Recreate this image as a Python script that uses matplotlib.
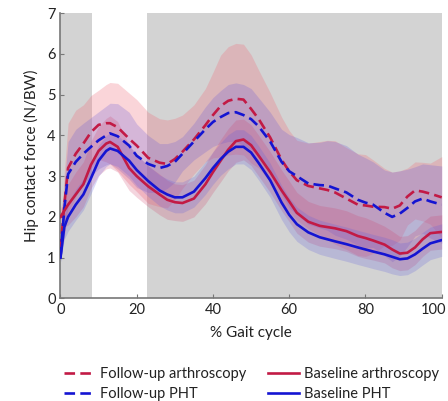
import matplotlib
matplotlib.use('Agg')
import matplotlib.pyplot as plt
import matplotlib.transforms as mtransforms
import numpy as np

plt.rcParams['font.family'] = ['Lato', 'DejaVu Sans']

# % gait cycle sample points
gait = [0, 1, 2, 4, 6, 8, 10, 12, 13, 15, 18, 20, 23, 26, 28, 30, 32, 35, 38, 40,
        42, 44, 46, 48, 50, 52, 55, 58, 60, 62, 65, 68, 70, 72, 75, 78, 80, 82, 85,
        87, 89, 91, 93, 95, 97, 100]

# follow-up arthroscopy (mean, sd)
fu_arth = [1.2, 2.3, 3.2, 3.55, 3.8, 4.08, 4.26, 4.3, 4.3, 4.2, 3.92, 3.75, 3.45, 3.33,
           3.3, 3.42, 3.6, 3.9, 4.25, 4.5, 4.72, 4.85, 4.9, 4.88, 4.65, 4.4, 3.95, 3.4,
           3.12, 2.9, 2.76, 2.7, 2.66, 2.6, 2.45, 2.3, 2.28, 2.25, 2.24, 2.2, 2.28, 2.5,
           2.65, 2.62, 2.57, 2.48]
fu_arth_sd = [0.1, 0.8, 1.1, 1.07, 0.95, 0.9, 0.85, 0.95, 1.0, 1.08, 1.12, 1.13, 1.12, 1.08,
              1.08, 1.0, 0.9, 0.85, 0.9, 1.05, 1.25, 1.33, 1.36, 1.36, 1.33, 1.2, 1.1, 1.05,
              1.0, 0.98, 1.05, 1.15, 1.22, 1.27, 1.25, 1.25, 1.25, 1.15, 0.95, 0.9, 0.85, 0.7,
              0.7, 0.72, 0.75, 1.0]

# follow-up PHT
fu_pht = [1.0, 2.2, 3.05, 3.35, 3.55, 3.72, 3.88, 4.0, 4.05, 3.98, 3.75, 3.5, 3.3, 3.2,
          3.25, 3.35, 3.55, 3.85, 4.15, 4.33, 4.45, 4.55, 4.57, 4.5, 4.4, 4.22, 3.85, 3.35,
          3.12, 3.0, 2.82, 2.78, 2.77, 2.7, 2.6, 2.42, 2.35, 2.3, 2.1, 2.0, 2.08, 2.22,
          2.38, 2.45, 2.38, 2.3]
fu_pht_sd = [0.1, 0.6, 0.8, 0.8, 0.75, 0.72, 0.7, 0.72, 0.74, 0.8, 0.82, 0.78, 0.7, 0.6,
             0.55, 0.5, 0.42, 0.45, 0.55, 0.6, 0.65, 0.7, 0.72, 0.75, 0.75, 0.7, 0.72, 0.8,
             0.9, 0.95, 1.0, 1.05, 1.1, 1.15, 1.15, 1.12, 1.1, 1.05, 1.05, 1.1, 1.05, 0.95,
             0.85, 0.85, 0.9, 0.95]

# baseline arthroscopy
bl_arth = [2.0, 2.15, 2.3, 2.55, 2.8, 3.28, 3.62, 3.8, 3.84, 3.72, 3.2, 3.0, 2.75, 2.55,
           2.42, 2.36, 2.34, 2.45, 2.8, 3.1, 3.38, 3.65, 3.86, 3.9, 3.76, 3.5, 3.1, 2.65,
           2.38, 2.1, 1.88, 1.78, 1.75, 1.72, 1.65, 1.53, 1.48, 1.42, 1.32, 1.2, 1.1, 1.12,
           1.25, 1.45, 1.6, 1.63]
bl_arth_sd = [0.2, 0.4, 0.5, 0.55, 0.55, 0.58, 0.6, 0.62, 0.64, 0.62, 0.55, 0.52, 0.5, 0.5,
              0.48, 0.45, 0.45, 0.45, 0.48, 0.5, 0.52, 0.52, 0.52, 0.5, 0.5, 0.5, 0.5, 0.5,
              0.5, 0.5, 0.5, 0.5, 0.5, 0.5, 0.5, 0.5, 0.5, 0.48, 0.45, 0.45, 0.42, 0.42,
              0.42, 0.42, 0.42, 0.42]

# baseline PHT
bl_pht = [1.0, 1.75, 2.0, 2.3, 2.55, 2.95, 3.38, 3.62, 3.68, 3.62, 3.38, 3.15, 2.88, 2.65,
          2.55, 2.48, 2.48, 2.62, 2.95, 3.2, 3.42, 3.6, 3.72, 3.72, 3.58, 3.32, 2.9, 2.35,
          2.05, 1.82, 1.62, 1.5, 1.45, 1.4, 1.33, 1.25, 1.2, 1.15, 1.08, 1.02, 0.96, 0.98,
          1.08, 1.22, 1.35, 1.43]
bl_pht_sd = [0.1, 0.3, 0.35, 0.38, 0.38, 0.38, 0.38, 0.38, 0.38, 0.38, 0.38, 0.38, 0.38, 0.38,
             0.38, 0.38, 0.38, 0.38, 0.4, 0.4, 0.4, 0.42, 0.42, 0.42, 0.42, 0.42, 0.42, 0.42,
             0.42, 0.42, 0.42, 0.42, 0.42, 0.42, 0.42, 0.42, 0.42, 0.42, 0.42, 0.42, 0.4, 0.4,
             0.4, 0.4, 0.4, 0.4]

# grey shaded phases (% gait)
grey_spans = [(0, 8.3), (22.6, 100)]

red = '#c21a45'
blue = '#1414d2'

fig = plt.figure(figsize=(4.48, 4.01), dpi=100)
ax = fig.add_axes([0.135, 0.256, 0.851, 0.711])

for a, b in grey_spans:
    ax.axvspan(a, b, color='#d3d3d3', lw=0, zorder=0)

x = np.array(gait)
bands = [(fu_arth, fu_arth_sd, '#f06a78', 0.28),
         (fu_pht, fu_pht_sd, '#6a5ad8', 0.25),
         (bl_arth, bl_arth_sd, '#d0406a', 0.22),
         (bl_pht, bl_pht_sd, '#5a5ae0', 0.22)]
for m, s, c, al in bands:
    m = np.array(m); s = np.array(s)
    ax.fill_between(x, m - s, m + s, color=c, alpha=al, lw=0, zorder=1)

ax.plot(x, fu_arth, color=red, lw=1.9, dashes=(4, 2), label='Follow-up arthroscopy', zorder=3)
ax.plot(x, fu_pht, color=blue, lw=1.9, dashes=(4, 2), label='Follow-up PHT', zorder=3)
ax.plot(x, bl_arth, color=red, lw=1.9, label='Baseline arthroscopy', zorder=3)
ax.plot(x, bl_pht, color=blue, lw=1.9, label='Baseline PHT', zorder=3)

ax.set_xlim(0, 100)
ax.set_ylim(0, 7)
ax.set_xticks([0, 20, 40, 60, 80, 100])
ax.set_yticks(range(8))
for sp in ['top', 'right']:
    ax.spines[sp].set_visible(False)
for sp in ['left', 'bottom']:
    ax.spines[sp].set_color('#777777')
    ax.spines[sp].set_linewidth(1.2)
ax.tick_params(direction='in', length=3, color='#777777', labelsize=10.5, labelcolor='#222222')
ax.set_xlabel('% Gait cycle', fontsize=11, color='#222222', labelpad=6)
ax.set_ylabel('Hip contact force (N/BW)', fontsize=11, color='#222222', labelpad=6)

# keep the "100" label inside the figure
last = ax.get_xticklabels()[-1]
last.set_transform(last.get_transform() + mtransforms.ScaledTranslation(-8 / 100, 0, fig.dpi_scale_trans))

leg = fig.legend(loc='upper left', bbox_to_anchor=(0.13, 0.1), ncol=2, frameon=False,
                 fontsize=10.5, handlelength=2.1, handletextpad=0.35, columnspacing=1.5,
                 labelspacing=0.42, borderaxespad=0)
for t in leg.get_texts():
    t.set_color('#222222')

fig.savefig('out.png', dpi=100)
